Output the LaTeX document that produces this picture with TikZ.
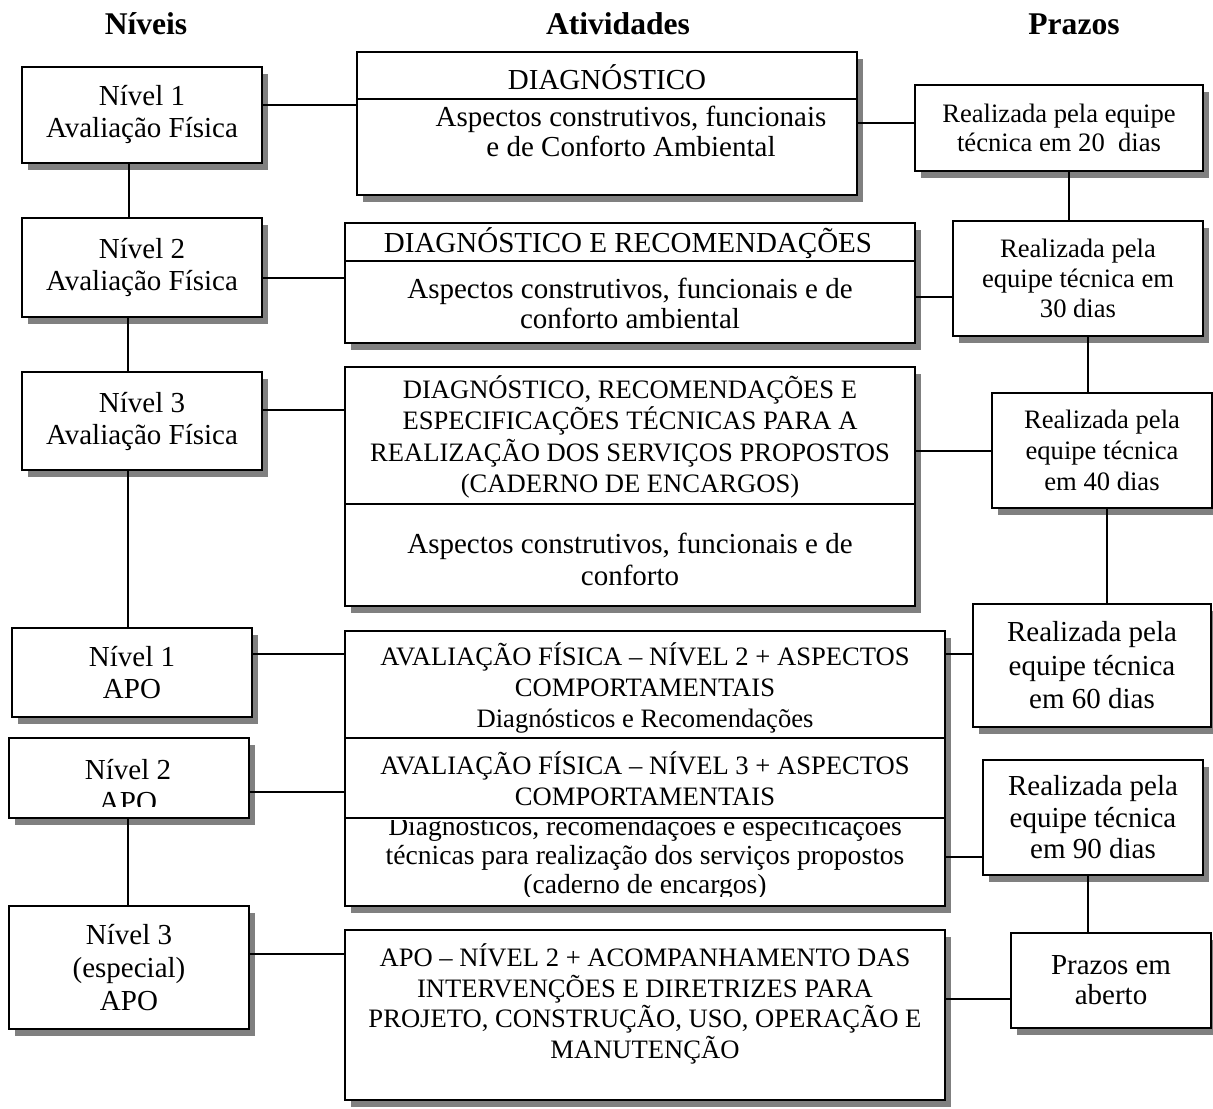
\documentclass[tikz,border=0pt]{standalone}
\usepackage{fontspec}
\setmainfont{Liberation Serif}
\usetikzlibrary{shadows}

\begin{document}
\begin{tikzpicture}[
  x=0.5pt,y=-0.5pt,
  box/.style={draw,line width=1pt,fill=white,inner sep=0pt,align=center,
    drop shadow={shadow xshift=3pt,shadow yshift=-3.5pt,fill=black!50,opacity=1}},
  big/.style={font=\fontsize{14.5}{16}\selectfont},
  small/.style={font=\fontsize{13.3}{15.5}\selectfont},
  nivel/.style={box,big,minimum width=120pt},
  txt/.style={inner sep=0pt,align=center},
  head/.style={font=\fontsize{15.8}{18}\selectfont\bfseries},
  link/.style={line width=0.8pt}
]
  \useasboundingbox (0,0) rectangle (1213,1108);

  \node[head] (hniv) at (146,24) {Níveis};
  \node[head] (hativ) at (618,24) {Atividades};
  \node[head] (hpraz) at (1074,24) {Prazos};

  \node[nivel,minimum height=48pt] (n1af) at (142,115) {Nível 1\\Avaliação Física};
  \node[nivel,minimum height=49.5pt] (n2af) at (142,267.5) {Nível 2\\Avaliação Física};
  \node[nivel,minimum height=49pt] (n3af) at (142,421) {Nível 3\\Avaliação Física};
  \node[nivel,minimum height=44.5pt] (n1apo) at (132,672.5) {Nível 1\\APO};
  \node[nivel,minimum height=40pt] (n2apo) at (129,778) {};
  \begin{scope}
    \clip (n2apo.north west) rectangle (n2apo.east |- 0,806);
    \node[txt,big] (n2apotxt) at (128,786) {Nível 2\\APO};
  \end{scope}
  \node[nivel,minimum height=61.5pt,font=\fontsize{14.5}{16.5}\selectfont] (n3apo) at (129,967.5)
    {Nível 3\\(especial)\\APO};

  \node[box,minimum width=250pt,minimum height=71.5pt] (m1) at (607,123.5) {};
  \draw[link] (m1.west |- 0,99) -- (m1.east |- 0,99);
  \node[txt,big] (m1a) at (607,77) {DIAGNÓSTICO};
  \node[txt,font=\fontsize{14.5}{15}\selectfont] (m1b) at (631,131)
    {Aspectos construtivos, funcionais\\e de Conforto Ambiental};

  \node[box,minimum width=285pt,minimum height=60pt] (m2) at (630,283) {};
  \draw[link] (m2.west |- 0,261) -- (m2.east |- 0,261);
  \node[txt,big] (m2a) at (628,243) {DIAGNÓSTICO E RECOMENDAÇÕES};
  \node[txt,font=\fontsize{14.5}{15}\selectfont] (m2b) at (630,303)
    {Aspectos construtivos, funcionais e de\\conforto ambiental};

  \node[box,minimum width=285pt,minimum height=119.5pt] (m3) at (630,486.5) {};
  \draw[link] (m3.west |- 0,504) -- (m3.east |- 0,504);
  \node[txt,font=\fontsize{13.3}{15.7}\selectfont] (m3a) at (630,437)
    {DIAGNÓSTICO, RECOMENDAÇÕES E\\ESPECIFICAÇÕES TÉCNICAS PARA A\\
     REALIZAÇÃO DOS SERVIÇOS PROPOSTOS\\(CADERNO DE ENCARGOS)};
  \node[txt,big] (m3b) at (630,559) {Aspectos construtivos, funcionais e de\\conforto};

  \node[box,minimum width=300pt,minimum height=137.5pt] (m4) at (645,768.5) {};
  \draw[link] (m4.west |- 0,738) -- (m4.east |- 0,738);
  \draw[link] (m4.west |- 0,818) -- (m4.east |- 0,818);
  \node[txt,small] (m4a) at (645,688)
    {AVALIAÇÃO FÍSICA – NÍVEL 2 + ASPECTOS\\COMPORTAMENTAIS\\Diagnósticos e Recomendações};
  \node[txt,small] (m4b) at (645,779) {AVALIAÇÃO FÍSICA – NÍVEL 3 + ASPECTOS\\COMPORTAMENTAIS};
  \begin{scope}
    \clip (m4.west |- 0,820) rectangle (m4.east |- 0,896);
    \node[txt,font=\fontsize{13.8}{14.5}\selectfont] (m4c) at (645,858)
      {Diagnósticos, recomendações e especificações\\técnicas para realização dos serviços propostos\\
       (caderno de encargos)};
  \end{scope}

  \node[box,minimum width=300pt,minimum height=85pt] (m5) at (645,1015) {};
  \node[txt,font=\fontsize{13.3}{15.3}\selectfont] (m5a) at (645,1004)
    {APO – NÍVEL 2 + ACOMPANHAMENTO DAS\\INTERVENÇÕES E DIRETRIZES PARA\\
     PROJETO, CONSTRUÇÃO, USO, OPERAÇÃO E\\MANUTENÇÃO};

  \node[box,minimum width=144pt,minimum height=43pt,font=\fontsize{13.3}{14.5}\selectfont] (r1)
    at (1059,128) {Realizada pela equipe\\técnica em 20\ \ dias};
  \node[box,minimum width=125pt,minimum height=57.5pt,font=\fontsize{13.3}{15}\selectfont] (r2)
    at (1078,278.5) {Realizada pela\\equipe técnica em\\30 dias};
  \node[box,minimum width=110pt,minimum height=57.5pt,font=\fontsize{13.3}{15.5}\selectfont] (r3)
    at (1102,450.5) {Realizada pela\\equipe técnica\\em 40 dias};
  \node[box,minimum width=119pt,minimum height=61.5pt,font=\fontsize{14.5}{16.75}\selectfont] (r4)
    at (1092,665.5) {Realizada pela\\equipe técnica\\em 60 dias};
  \node[box,minimum width=110pt,minimum height=57.5pt,font=\fontsize{14.5}{15.75}\selectfont] (r5)
    at (1093,817.5) {Realizada pela\\equipe técnica\\em 90 dias};
  \node[box,minimum width=100pt,minimum height=47.5pt,font=\fontsize{14.5}{15}\selectfont] (r6)
    at (1111,980.5) {Prazos em\\aberto};

  \draw[link] (n1af.east |- 0,105) -- (m1.west |- 0,105);
  \draw[link] (n2af.east |- 0,278) -- (m2.west |- 0,278);
  \draw[link] (n3af.east |- 0,410) -- (m3.west |- 0,410);
  \draw[link] (n1apo.east |- 0,654) -- (m4.west |- 0,654);
  \draw[link] (n2apo.east |- 0,792) -- (m4.west |- 0,792);
  \draw[link] (n3apo.east |- 0,954) -- (m5.west |- 0,954);
  \draw[link] (m1.east |- 0,123) -- (r1.west |- 0,123);
  \draw[link] (m2.east |- 0,297) -- (r2.west |- 0,297);
  \draw[link] (m3.east |- 0,451) -- (r3.west |- 0,451);
  \draw[link] (m4.east |- 0,654) -- (r4.west |- 0,654);
  \draw[link] (m4.east |- 0,857) -- (r5.west |- 0,857);
  \draw[link] (m5.east |- 0,999) -- (r6.west |- 0,999);

  \draw[link] (n1af.south -| 129,0) -- (n2af.north -| 129,0);
  \draw[link] (n2af.south -| 128,0) -- (n3af.north -| 128,0);
  \draw[link] (n3af.south -| 128,0) -- (n1apo.north -| 128,0);
  \draw[link] (n2apo.south -| 128,0) -- (n3apo.north -| 128,0);
  \draw[link] (r1.south -| 1069,0) -- (r2.north -| 1069,0);
  \draw[link] (r2.south -| 1088,0) -- (r3.north -| 1088,0);
  \draw[link] (r3.south -| 1107,0) -- (r4.north -| 1107,0);
  \draw[link] (r5.south -| 1088,0) -- (r6.north -| 1088,0);
\end{tikzpicture}
\end{document}
